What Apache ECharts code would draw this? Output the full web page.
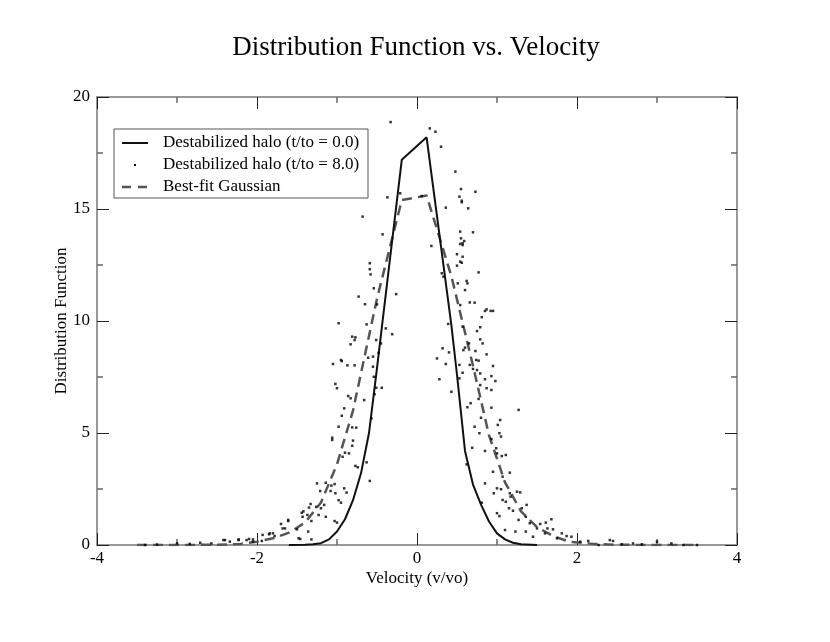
<!DOCTYPE html>
<html>
<head>
<meta charset="utf-8">
<script src="https://cdn.jsdelivr.net/npm/echarts@6/dist/echarts.min.js"></script>
<style>
  html, body { margin: 0; padding: 0; background: #fff; }
  #chart { width: 830px; height: 642px; }
</style>
</head>
<body>
<div id="chart"></div>
<script>
// 初始分布 (t/to = 0.0)
var solidX = [-1.6, -1.4, -1.3, -1.2, -1.1, -1.0, -0.9, -0.8, -0.7, -0.6, -0.5, -0.19, 0.12, 0.43, 0.5, 0.6, 0.7, 0.8, 0.9, 1.0, 1.1, 1.2, 1.3, 1.5];
var solidY = [0, 0.01, 0.03, 0.08, 0.25, 0.6, 1.15, 2.0, 3.2, 5.0, 7.9, 17.2, 18.2, 9.8, 7.6, 4.2, 2.7, 1.8, 1.05, 0.52, 0.25, 0.1, 0.03, 0];

// 高斯拟合
var gaussX = [-3.5, -3.0, -2.5, -2.2, -2.0, -1.8, -1.6, -1.4, -1.2, -1.0, -0.8, -0.5, -0.19, 0.12, 0.43, 0.7, 0.9, 1.1, 1.3, 1.5, 1.7, 1.9, 2.2, 2.5, 3.0, 3.5];
var gaussY = [0, 0, 0.01, 0.05, 0.15, 0.3, 0.55, 1.0, 1.9, 3.6, 6.0, 11.0, 15.4, 15.6, 12.0, 8.0, 4.9, 2.8, 1.5, 0.8, 0.4, 0.15, 0.05, 0.01, 0, 0];

// t/to = 8.0 的散点
var haloX = [
  -0.33, 0.16, 0.23, 0.30, 0.48, 0.55, 0.73, 0.53, 0.56, 0.36, 0.64, -0.37, -0.68, -0.21, -0.43, 0.18,
  0.54, 0.70, 0.55, 0.57, 0.50, 0.57, 0.54, 0.77, -0.59, -0.59, -0.58, 0.31, 0.33, 0.62, 0.63, -0.26,
  -0.73, -0.65, 0.66, 0.72, 0.87, 0.92, 0.81, -0.98, -0.39, 0.57, 0.79, -0.54, -0.50, -0.63, -0.31, -0.81,
  -0.77, -0.78, -0.83, -0.51, -0.45, -0.48, -0.61, -0.55, -0.94, -1.05, -0.87, -0.78, -0.55, -0.54, -1.02, -1.00,
  -0.51, -0.44, -0.53, -0.86, -0.83, -0.66, -0.91, -0.94, -0.57, -0.95, -0.98, -0.81, -0.76, -1.06, -1.06, -0.80,
  -0.81, -0.90, -0.85, -0.93, -0.77, -0.74, -0.63, -0.59, -1.25, -1.14, -1.07, -1.03, -1.21, -1.08, -0.91, -0.88,
  -1.02, -0.98, -0.95, -1.33, -1.35, -1.16, -1.20, -1.44, -1.43, -1.37, -1.23, -1.14, -1.32, -1.03, -1.00, -1.70,
  -1.61, -1.68, -1.50, -1.46, -1.85, -1.80, -1.94, -2.10, -2.23, -2.05, -2.40, -1.32, -3.40, -3.25, -3.00, -2.84,
  -2.71, -2.57, -2.42, -2.34, -2.23, -2.13, -2.05, -1.93, -1.84, -1.78, -1.65, -1.61, -1.48, -1.42, -1.36, -1.26,
  0.56, 0.06, 0.59, 0.54, 0.57, 0.56, 0.50, 0.51, 0.60, 0.54, 0.85, 0.95, 0.39, 0.75, 0.79, 0.82,
  0.65, 0.60, 0.58, 0.32, 0.73, 0.40, 0.87, 0.25, 0.74, 0.77, 0.36, 0.53, 0.66, 0.95, 0.70, 0.75,
  0.57, 0.79, 0.53, 0.93, 0.85, 0.98, 0.28, 0.79, 0.87, 0.93, 0.43, 0.77, 1.27, 0.67, 0.63, 0.93,
  0.80, 1.04, 1.01, 0.72, 0.78, 1.03, 1.05, 0.93, 0.69, 0.85, 0.99, 1.00, 1.06, 1.11, 0.62, 0.95,
  1.16, 1.07, 0.85, 1.00, 1.05, 1.16, 1.25, 1.29, 0.96, 1.07, 1.11, 1.17, 0.81, 1.37, 1.15, 1.20,
  1.31, 1.00, 1.03, 1.36, 1.27, 1.41, 1.50, 1.54, 1.61, 1.68, 1.63, 1.70, 1.60, 1.10, 1.23, 1.36,
  1.81, 1.87, 1.93, 2.04, 2.14, 1.45, 1.75, 2.27, 2.41, 2.45, 2.56, 2.70, 2.81, 3.00, 3.18, 3.33, 3.50
];
var haloY = [
  18.88, 18.6, 18.45, 17.78, 16.67, 15.89, 15.77, 15.55, 15.37, 15.06, 15.03, 15.52, 14.66, 15.7, 13.87, 13.35,
  13.99, 13.96, 13.69, 13.47, 12.98, 12.87, 12.65, 12.17, 12.58, 12.31, 12.08, 12.13, 11.98, 11.79, 11.68, 11.2,
  11.09, 10.75, 10.83, 10.82, 10.52, 10.45, 10.17, 9.9, 9.67, 9.75, 9.72, 11.46, 10.74, 9.85, 9.41, 9.3,
  9.27, 9.15, 8.96, 9.15, 9.0, 8.58, 8.36, 8.41, 8.21, 8.08, 8.02, 8.02, 7.96, 7.51, 7.19, 7.0,
  7.02, 7.02, 6.73, 6.65, 6.55, 6.47, 6.1, 5.77, 5.65, 8.26, 5.28, 5.25, 5.24, 4.79, 4.69, 4.66,
  4.43, 4.12, 4.09, 3.94, 3.53, 3.47, 3.69, 2.86, 2.75, 2.78, 2.65, 2.72, 2.41, 2.41, 2.53, 2.34,
  2.31, 2.0, 1.89, 1.83, 1.67, 1.79, 1.64, 1.44, 1.26, 1.34, 1.34, 1.26, 1.07, 1.07, 1.0, 0.94,
  1.07, 0.74, 0.7, 0.27, 0.48, 0.52, 0.18, 0.27, 0.22, 0.15, 0.22, 0.25, 0, 0.02, 0.07, 0.05,
  0.1, 0.07, 0.22, 0.15, 0.25, 0.22, 0.25, 0.45, 0.52, 0.4, 0.74, 1.12, 0.3, 1.5, 0.6, 1.7,
  15.3, 15.58, 13.57, 13.44, 13.39, 12.6, 12.47, 11.68, 11.38, 10.71, 10.45, 10.45, 9.87, 9.55, 9.18, 9.0,
  9.0, 8.81, 8.7, 8.78, 8.66, 8.6, 8.51, 8.33, 8.26, 8.23, 8.08, 8.04, 8.04, 7.99, 7.86, 7.81,
  7.69, 7.66, 7.44, 7.54, 7.4, 7.32, 7.4, 7.14, 7.0, 6.92, 6.84, 6.52, 6.03, 6.33, 6.15, 6.13,
  5.68, 5.58, 5.36, 5.28, 4.99, 4.99, 4.84, 4.73, 4.34, 4.2, 4.32, 4.09, 3.97, 4.02, 3.6, 3.27,
  3.23, 3.05, 2.75, 2.53, 2.49, 2.31, 2.38, 2.35, 2.31, 2.01, 1.93, 2.16, 1.89, 1.79, 1.64, 1.53,
  1.64, 1.42, 1.29, 1.26, 1.12, 0.97, 0.74, 0.94, 1.0, 1.15, 0.74, 0.7, 0.52, 0.67, 0.6, 0.6,
  0.52, 0.4, 0.37, 0.15, 0.18, 0.37, 0.3, 0, 0.22, 0.18, 0.03, 0.07, 0.03, 0.15, 0.07, 0, 0
];

var xTicks = [-4, -2, 0, 2, 4];
var yTicks = [0, 5, 10, 15, 20];

function pairs(xs, ys) {
  return xs.map(function (x, i) { return [x, ys[i]]; });
}

var serif = "Liberation Serif";
var fs = 17;
var chart = echarts.init(document.getElementById("chart"));

var boxAxis = {
  min: -4, max: 4, interval: 2,
  axisLine: { show: true, onZero: false, lineStyle: { color: "#777", width: 1.5 } },
  axisTick: { show: true, inside: true, length: 12, lineStyle: { color: "#222" } },
  minorTick: { show: true, splitNumber: 2, length: 6, lineStyle: { color: "#666", width: 1.5 } },
  splitLine: { show: false },
};

var option = {
  backgroundColor: "#fff",
  animation: false,
  title: {
    text: "Distribution Function vs. Velocity",
    left: 411, top: 29, textAlign: "center",
    textStyle: { fontFamily: serif, fontSize: 27, fontWeight: "normal", color: "#000" },
  },
  grid: { left: 97, right: 93, top: 97, bottom: 97 },
  xAxis: [
    Object.assign({}, boxAxis, {
      type: "value", position: "bottom",
      name: "Velocity (v/vo)", nameLocation: "middle", nameGap: 25, nameMoveOverlap: false,
      nameTextStyle: { fontFamily: serif, fontSize: fs, color: "#000" },
      axisLabel: {
        fontFamily: serif, fontSize: fs, color: "#000", margin: 5,
        formatter: function (v) { return xTicks.indexOf(v) >= 0 ? String(v) : ""; },
      },
    }),
    Object.assign({}, boxAxis, { type: "value", position: "top", axisLabel: { show: false } }),
  ],
  yAxis: [
    Object.assign({}, boxAxis, {
      type: "value", position: "left", min: 0, max: 20, interval: 5,
      name: "Distribution Function", nameLocation: "middle", nameGap: 27, nameMoveOverlap: false,
      nameTextStyle: { fontFamily: serif, fontSize: fs, color: "#000" },
      axisLabel: {
        fontFamily: serif, fontSize: fs, color: "#000", margin: 7,
        formatter: function (v) { return yTicks.indexOf(v) >= 0 ? String(v) : ""; },
      },
    }),
    Object.assign({}, boxAxis, { type: "value", position: "right", min: 0, max: 20, interval: 5, axisLabel: { show: false } }),
  ],
  series: [
    {
      name: "Best-fit Gaussian", type: "line", data: pairs(gaussX, gaussY),
      symbol: "none", z: 2,
      lineStyle: { color: "#555", width: 2.5, type: [10, 6] },
    },
    {
      name: "Destabilized halo (t/to = 0.0)", type: "line", data: pairs(solidX, solidY),
      symbol: "none", z: 3,
      lineStyle: { color: "#111", width: 2 },
    },
    {
      name: "Destabilized halo (t/to = 8.0)", type: "scatter", data: pairs(haloX, haloY),
      symbol: "rect", symbolSize: 2.5, z: 4,
      itemStyle: { color: "#000" },
    },
  ],
  // 图例（手绘的框）
  graphic: [
    { type: "rect", shape: { x: 114, y: 129, width: 254, height: 69 }, style: { fill: "#fff", stroke: "#555", lineWidth: 1 }, z: 10 },
    { type: "line", shape: { x1: 122, y1: 143, x2: 148, y2: 143 }, style: { stroke: "#111", lineWidth: 2 }, z: 11 },
    { type: "rect", shape: { x: 134, y: 164, width: 2, height: 2 }, style: { fill: "#000" }, z: 11 },
    { type: "line", shape: { x1: 122, y1: 187, x2: 148, y2: 187 }, style: { stroke: "#555", lineWidth: 2.5, lineDash: [9, 7] }, z: 11 },
    { type: "text", x: 163, y: 143, style: { text: "Destabilized halo (t/to = 0.0)", fontFamily: serif, fontSize: fs, fill: "#000", verticalAlign: "middle" }, z: 11 },
    { type: "text", x: 163, y: 165, style: { text: "Destabilized halo (t/to = 8.0)", fontFamily: serif, fontSize: fs, fill: "#000", verticalAlign: "middle" }, z: 11 },
    { type: "text", x: 163, y: 187, style: { text: "Best-fit Gaussian", fontFamily: serif, fontSize: fs, fill: "#000", verticalAlign: "middle" }, z: 11 },
  ],
};

chart.setOption(option);
</script>
</body>
</html>
